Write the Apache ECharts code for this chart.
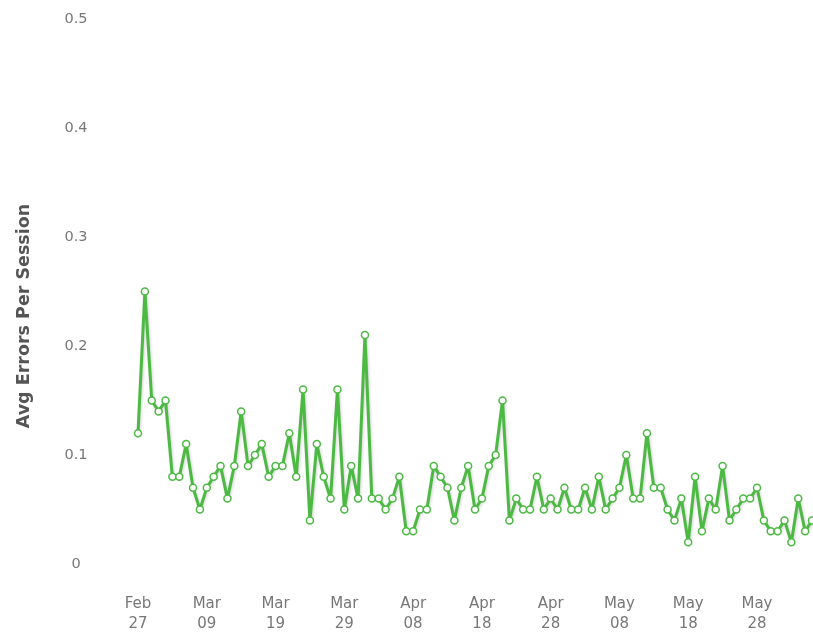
<!DOCTYPE html>
<html>
<head>
<meta charset="utf-8">
<script src="https://cdn.jsdelivr.net/npm/echarts@6/dist/echarts.min.js"></script>
<style>
html,body{margin:0;padding:0;background:#fff;}
#chart{width:813px;height:634px;}
</style>
</head>
<body>
<div id="chart"></div>
<script>
// ---- data ----
var startDate = '2013-02-27';
var monthNames = ['Jan','Feb','Mar','Apr','May','Jun','Jul','Aug','Sep','Oct','Nov','Dec'];
var yTicks = [0, 0.1, 0.2, 0.3, 0.4, 0.5];
var avgErrors = [
  0.12, 0.25, 0.15, 0.14, 0.15, 0.08, 0.08, 0.11, 0.07, 0.05,
  0.07, 0.08, 0.09, 0.06, 0.09, 0.14, 0.09, 0.10, 0.11, 0.08,
  0.09, 0.09, 0.12, 0.08, 0.16, 0.04, 0.11, 0.08, 0.06, 0.16,
  0.05, 0.09, 0.06, 0.21, 0.06, 0.06, 0.05, 0.06, 0.08, 0.03,
  0.03, 0.05, 0.05, 0.09, 0.08, 0.07, 0.04, 0.07, 0.09, 0.05,
  0.06, 0.09, 0.10, 0.15, 0.04, 0.06, 0.05, 0.05, 0.08, 0.05,
  0.06, 0.05, 0.07, 0.05, 0.05, 0.07, 0.05, 0.08, 0.05, 0.06,
  0.07, 0.10, 0.06, 0.06, 0.12, 0.07, 0.07, 0.05, 0.04, 0.06,
  0.02, 0.08, 0.03, 0.06, 0.05, 0.09, 0.04, 0.05, 0.06, 0.06,
  0.07, 0.04, 0.03, 0.03, 0.04, 0.02, 0.06, 0.03, 0.04
];
var yTitle = 'Avg Errors Per Session';

// consecutive daily categories
var days = [];
(function(){
  var d = new Date(startDate + 'T00:00:00Z');
  for (var i = 0; i < avgErrors.length; i++) {
    var m = d.getUTCMonth(), dd = d.getUTCDate();
    days.push(monthNames[m] + '\n' + (dd < 10 ? '0' + dd : '' + dd));
    d.setUTCDate(d.getUTCDate() + 1);
  }
})();

var chart = echarts.init(document.getElementById('chart'), null, {renderer: 'canvas'});
chart.setOption({
  animation: false,
  backgroundColor: '#fff',
  grid: {left: 138, right: 1, top: 19, bottom: 69, containLabel: false},
  xAxis: {
    type: 'category',
    data: days,
    boundaryGap: false,
    axisLine: {show: false},
    axisTick: {show: false},
    splitLine: {show: false},
    axisLabel: {
      interval: 9,
      margin: 30,
      color: '#777',
      fontFamily: 'DejaVu Sans',
      fontSize: 15,
      lineHeight: 20
    }
  },
  yAxis: {
    type: 'value',
    min: yTicks[0],
    max: yTicks[yTicks.length - 1],
    interval: 0.1,
    axisLine: {show: false},
    axisTick: {show: false},
    splitLine: {show: false},
    axisLabel: {
      margin: 62,
      align: 'center',
      color: '#777',
      fontFamily: 'DejaVu Sans',
      fontSize: 14.5
    }
  },
  graphic: [{
    type: 'text',
    x: 24,
    y: 316,
    rotation: Math.PI / 2,
    style: {
      text: yTitle,
      fill: '#555',
      font: 'bold 17.5px "DejaVu Sans"',
      textAlign: 'center',
      textVerticalAlign: 'middle'
    }
  }],
  series: [{
    type: 'line',
    data: avgErrors,
    symbol: 'circle',
    symbolSize: 7,
    showAllSymbol: true,
    clip: false,
    lineStyle: {
      color: '#4cb943',
      width: 3,
      shadowColor: 'rgba(0,0,0,0.18)',
      shadowBlur: 3,
      shadowOffsetX: 1,
      shadowOffsetY: 1
    },
    itemStyle: {
      color: '#ffffff',
      borderColor: '#4cb943',
      borderWidth: 1.5
    }
  }]
});
</script>
</body>
</html>
